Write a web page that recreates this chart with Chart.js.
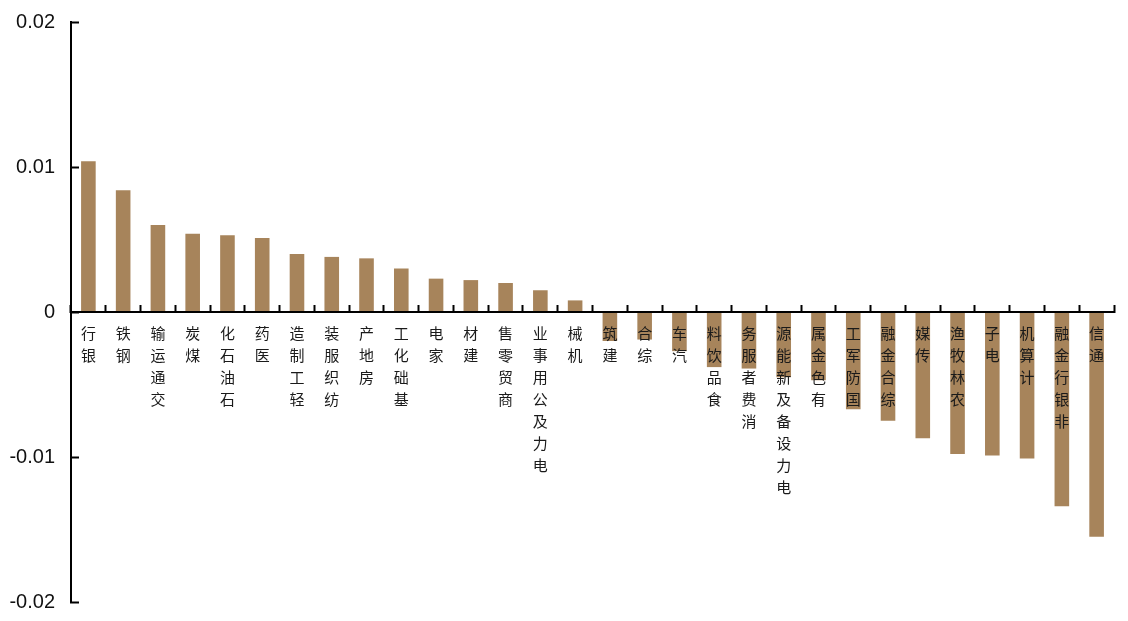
<!DOCTYPE html>
<html>
<head>
<meta charset="utf-8">
<script src="https://cdn.jsdelivr.net/npm/chart.js@4.4.1/dist/chart.umd.min.js"></script>
<style>
  html, body { margin: 0; padding: 0; background: #fff; }
  #wrap { width: 1128px; height: 621px; position: relative; }
</style>
</head>
<body>
<div id="wrap"><canvas id="industry_chart"></canvas></div>
<script>
// industry names, in the order of the bars
var industries = ['银行', '钢铁', '交通运输', '煤炭', '石油石化', '医药', '轻工制造', '纺织服装', '房地产', '基础化工',
    '家电', '建材', '商贸零售', '电力及公用事业', '机械', '建筑', '综合', '汽车', '食品饮料', '消费者服务',
    '电力设备及新能源', '有色金属', '国防军工', '综合金融', '传媒', '农林牧渔', '电子', '计算机', '非银行金融', '通信'];
var returns = [0.0104, 0.0084, 0.0060, 0.0054, 0.0053, 0.0051, 0.0040, 0.0038, 0.0037, 0.0030,
    0.0023, 0.0022, 0.0020, 0.0015, 0.0008, -0.0020, -0.0019, -0.0027, -0.0038, -0.0039,
    -0.0045, -0.0047, -0.0067, -0.0075, -0.0087, -0.0098, -0.0099, -0.0101, -0.0134, -0.0155];
var yTicks = [-0.02, -0.01, 0, 0.01, 0.02];

var barColor = '#A7845B';
var axisColor = '#000000';

var ctx = document.getElementById('industry_chart');
var chart = new Chart(ctx, {
    type: 'bar',
    data: {
        labels: industries,
        datasets: [{
            label: 'return',
            data: returns,
            backgroundColor: barColor,
            borderWidth: 0,
            barPercentage: 0.42,
            categoryPercentage: 1
        }]
    },
    options: {
        responsive: true,
        maintainAspectRatio: false,
        animation: false,
        layout: {
            padding: { top: 22, right: 14, bottom: 19, left: 0 }
        },
        plugins: {
            legend: { display: false },
            tooltip: { enabled: false }
        },
        scales: {
            x: {
                position: { y: 0 },
                afterFit: function (scale) {
                    scale.height = 0;
                    scale.paddingTop = 0;
                    scale.paddingBottom = 0;
                },
                border: { display: true, color: axisColor, width: 2, z: 1 },
                grid: {
                    offset: true,
                    drawOnChartArea: false,
                    drawTicks: true,
                    tickLength: -8,
                    tickWidth: 2,
                    tickColor: axisColor,
                    z: 1
                },
                ticks: {
                    z: 1,
                    autoSkip: false,
                    maxRotation: 0,
                    minRotation: 0,
                    padding: 18,
                    color: '#1a1a1a',
                    font: { family: '"Noto Sans CJK SC", sans-serif', size: 15, lineHeight: 22 / 15 },
                    callback: function (value) {
                        // stacked characters, read from the bottom up
                        return this.getLabelForValue(value).split('').reverse();
                    }
                }
            },
            y: {
                min: yTicks[0],
                max: yTicks[yTicks.length - 1],
                afterFit: function (scale) {
                    scale.width = 71;
                    scale.paddingTop = 0;
                    scale.paddingBottom = 0;
                },
                afterBuildTicks: function (scale) {
                    scale.ticks = yTicks.map(function (v) { return { value: v }; });
                },
                border: { display: true, color: axisColor, width: 2 },
                grid: {
                    drawOnChartArea: false,
                    drawTicks: true,
                    tickLength: -8,
                    tickWidth: 2,
                    tickColor: axisColor
                },
                ticks: {
                    padding: 24,
                    color: '#111111',
                    font: { family: '"Liberation Sans", Arial, sans-serif', size: 20 },
                    callback: function (value) {
                        var v = Math.round(value * 100) / 100;
                        return v === 0 ? '0' : v.toFixed(2);
                    }
                }
            }
        }
    }
});
</script>
</body>
</html>
